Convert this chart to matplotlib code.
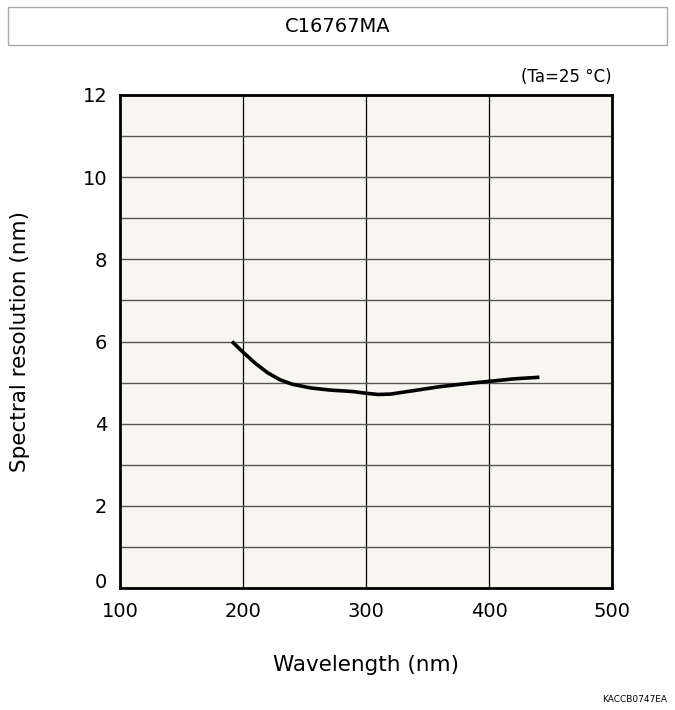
import matplotlib.pyplot as plt
import matplotlib.transforms as mtransforms
from matplotlib.patches import Rectangle

# curve (wavelength nm, resolution nm)
wavelength = [191, 200, 210, 220, 230, 240, 255, 270, 290, 300, 310, 320, 340, 360, 380, 400, 420, 441]
resolution = [6.0, 5.74, 5.47, 5.24, 5.07, 4.96, 4.87, 4.82, 4.78, 4.74, 4.71, 4.72, 4.81, 4.90, 4.97, 5.03, 5.09, 5.13]

x_ticks = [100, 200, 300, 400, 500]
y_ticks = [0, 2, 4, 6, 8, 10, 12]

plt.rcParams['font.family'] = ['DejaVu Sans']

fig = plt.figure(figsize=(6.75, 7.1), dpi=100)
ax = fig.add_axes([120/675, 1-588/710, 492/675, 493/710])
ax.set_facecolor('#f7f6f0')

ax.plot(wavelength, resolution, color='black', lw=2.6, solid_capstyle='butt', zorder=3)

ax.set_xlim(100, 500)
ax.set_ylim(0, 12)
ax.set_xticks(x_ticks)
ax.set_yticks(y_ticks)
ax.set_yticks(range(0, 13), minor=True)
ax.tick_params(which='both', length=0, labelsize=14)
ax.tick_params(axis='x', pad=10)
ax.tick_params(axis='y', pad=9)
ax.grid(True, axis='x', color='black', lw=0.9)
ax.grid(True, axis='y', which='both', color='#555555', lw=1.0)
for s in ax.spines.values():
    s.set_linewidth(2)

# the "0" label sits a little above the corner in the reference
lbl0 = ax.get_yticklabels()[0]
lbl0.set_transform(lbl0.get_transform() + mtransforms.ScaledTranslation(0, 8/100, fig.dpi_scale_trans))

fig.text(366/675, 1-665/710, 'Wavelength (nm)', ha='center', va='center', fontsize=15.5)
fig.text(20/675, 1-341/710, 'Spectral resolution (nm)', ha='center', va='center',
         rotation=90, fontsize=15.5)

fig.text(612/675, 1-77/710, '(Ta=25 °C)', ha='right', va='center', fontsize=12)
fig.patches.append(Rectangle((8/675, 1-45/710), 659/675, 38/710, transform=fig.transFigure,
                             fill=False, edgecolor='#aaaaaa', lw=1))
fig.text(338/675, 1-26/710, 'C16767MA', ha='center', va='center', fontsize=14)
fig.text(667/675, 1-700/710, 'KACCB0747EA', ha='right', va='center', fontsize=6.5)

fig.savefig('out.png', dpi=100)
